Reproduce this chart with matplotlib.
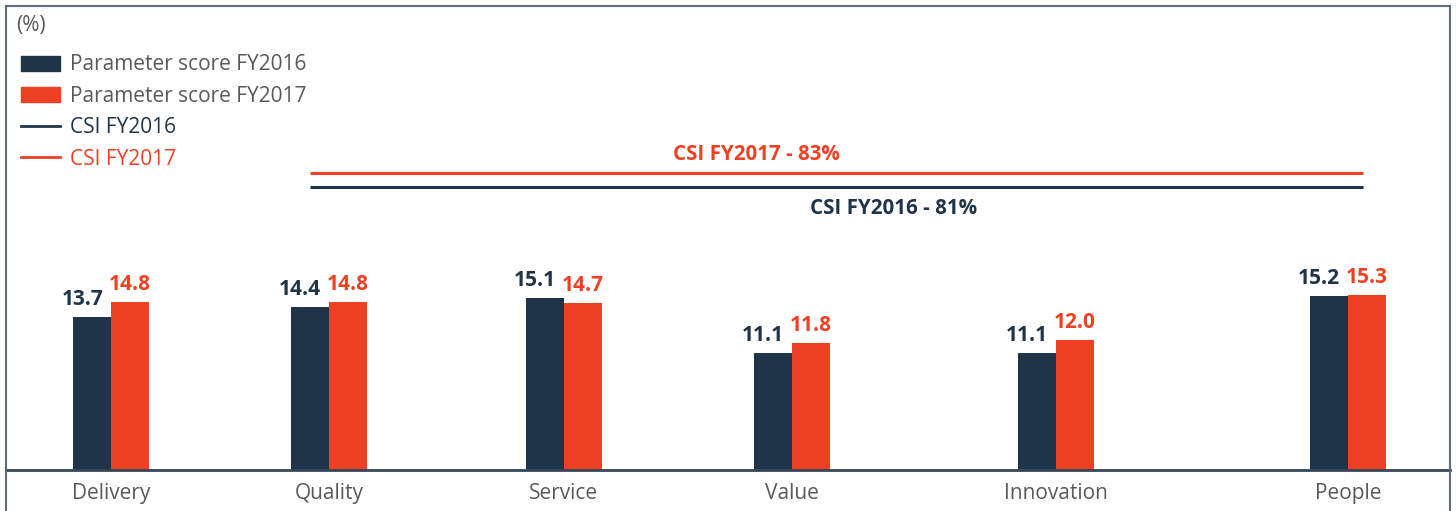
import matplotlib.pyplot as plt
from matplotlib.lines import Line2D
from matplotlib.patches import Patch, Rectangle

# Data
categories = ['Delivery', 'Quality', 'Service', 'Value', 'Innovation', 'People']
score_fy2016 = [13.7, 14.4, 15.1, 11.1, 11.1, 15.2]
score_fy2017 = [14.8, 14.8, 14.7, 11.8, 12.0, 15.3]
csi_fy2016 = 81
csi_fy2017 = 83

# Colours
navy = '#1F3449'
red = '#EE4123'
grey = '#595959'

plt.rcParams['font.family'] = ['Open Sans', 'DejaVu Sans']

W, H = 1456, 511
fig = plt.figure(figsize=(W / 100, H / 100), dpi=100)

# layout (pixels)
x_left, x_right = 6, 1450
y_base, y_top = 470, 6
xpos = [111, 329, 564, 792, 1056, 1348]
bw = 38

ax = fig.add_axes([x_left / W, (H - y_base) / H,
                   (x_right - x_left) / W, (y_base - y_top) / H])
ax.set_xlim(x_left, x_right)
ax.set_ylim(2.6, 2.6 + (y_base - y_top) / 13.8)

b1 = ax.bar([x - bw / 2 for x in xpos], score_fy2016, bw, color=navy)
b2 = ax.bar([x + bw / 2 for x in xpos], score_fy2017, bw, color=red)

for rect, v in zip(b1, score_fy2016):
    ax.annotate(f'{v:.1f}', (rect.get_x() + rect.get_width() / 2, v),
                xytext=(-7, 5), textcoords='offset points', ha='center', va='bottom',
                fontsize=15, fontweight='bold', color=navy)
for rect, v in zip(b2, score_fy2017):
    ax.annotate(f'{v:.1f}', (rect.get_x() + rect.get_width() / 2, v),
                xytext=(0, 5), textcoords='offset points', ha='center', va='bottom',
                fontsize=15, fontweight='bold', color=red)

ax.set_xticks(xpos)
ax.set_xticklabels(categories, fontsize=15, color=grey)
ax.tick_params(axis='x', length=0, pad=9)
ax.set_yticks([])
for s in ['top', 'left', 'right']:
    ax.spines[s].set_visible(False)
ax.spines['bottom'].set_color('#34465A')
ax.spines['bottom'].set_linewidth(2)

# CSI lines on a twin scale
ax2 = ax.twinx()
lo = csi_fy2016 - (y_base - 187) / 7
ax2.set_ylim(lo, lo + (y_base - y_top) / 7)
ax2.set_xlim(x_left, x_right)
ax2.axis('off')
ax2.hlines(csi_fy2017, 310, 1363, color=red, lw=2.2)
ax2.hlines(csi_fy2016, 310, 1363, color=navy, lw=2.2)
ax2.text(756, csi_fy2017 + 2.7, f'CSI FY2017 - {csi_fy2017}%', ha='center', va='center',
         fontsize=14.8, fontweight='bold', color=red)
ax2.text(894, csi_fy2016 - 3.0, f'CSI FY2016 - {csi_fy2016}%', ha='center', va='center',
         fontsize=14.8, fontweight='bold', color=navy)

# legend
handles = [Patch(color=navy), Patch(color=red),
           Line2D([], [], color=navy, lw=2), Line2D([], [], color=red, lw=2)]
labels = ['Parameter score FY2016', 'Parameter score FY2017', 'CSI FY2016', 'CSI FY2017']
fig.legend(handles, labels, loc='upper left', bbox_to_anchor=(11 / W, 1 - 44 / H),
           frameon=False, fontsize=15, handlelength=1.85, handleheight=0.75,
           handletextpad=0.5, labelspacing=0.5, borderpad=0,
           labelcolor=[grey, grey, navy, red])
fig.text(16 / W, 1 - 26 / H, '(%)', fontsize=15, color=grey, va='center')

# outer frame (runs off the bottom of the image)
fig.patches.append(Rectangle((x_left / W, -0.2), (x_right - x_left) / W, 1.2 - y_top / H,
                             transform=fig.transFigure, fill=False,
                             edgecolor='#5E6E7E', lw=1.5))

fig.savefig('out.png', dpi=100)
